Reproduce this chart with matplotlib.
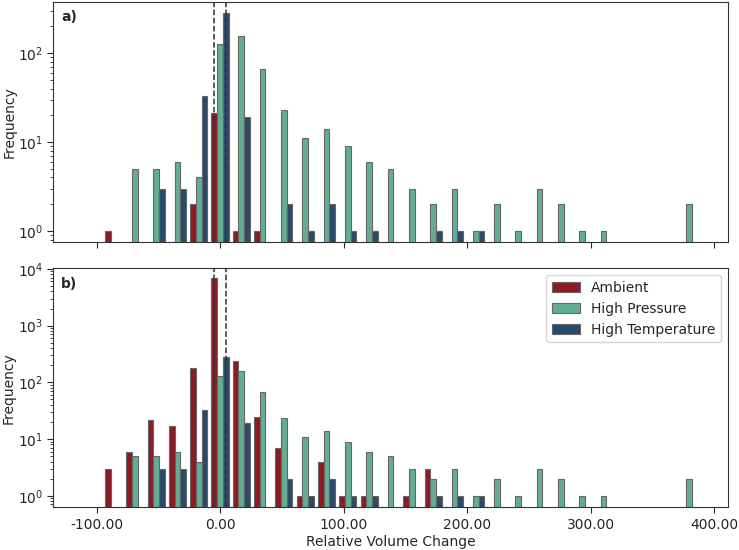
import numpy as np
import matplotlib
matplotlib.use("Agg")
import matplotlib.pyplot as plt
from matplotlib.ticker import FormatStrFormatter, LogLocator, NullFormatter

# ---- data (histogram counts per bin) ----
bin_start = -95.1
bin_width = 17.25
n_bins = 28

series_names = ["Ambient", "High Pressure", "High Temperature"]
colors = ["#8b1c24", "#62ad94", "#2a4a6a"]

# panel a)
ambient_a = [1, 0, 0, 0, 2, 21, 1, 1, 0, 0, 0, 0, 0, 0,
             0, 0, 0, 0, 0, 0, 0, 0, 0, 0, 0, 0, 0, 0]
# panel b)
ambient_b = [3, 6, 22, 17, 180, 6800, 240, 24, 7, 1, 4, 1, 1, 0,
             1, 3, 0, 0, 0, 0, 0, 0, 0, 0, 0, 0, 0, 0]
high_pressure = [0, 5, 5, 6, 4, 127, 157, 67, 23, 11, 14, 9, 6, 5,
                 3, 2, 3, 1, 2, 1, 3, 2, 1, 1, 0, 0, 0, 2]
high_temperature = [0, 0, 3, 3, 33, 280, 19, 0, 2, 1, 2, 1, 1, 0,
                    0, 1, 1, 1, 0, 0, 0, 0, 0, 0, 0, 0, 0, 0]

threshold_lines = [-5, 5]
xticks = [-100, 0, 100, 200, 300, 400]

plt.rcParams.update({
    "font.family": "DejaVu Sans",
    "text.color": "0.15",
    "axes.labelcolor": "0.15",
    "xtick.color": "0.15",
    "ytick.color": "0.15",
    "axes.edgecolor": "0.2",
})

fig = plt.figure(figsize=(7.39, 5.5), dpi=100)
L, R = 0.0721, 0.9847
ax_a = fig.add_axes([L, 0.5595, R - L, 0.9969 - 0.5595])
ax_b = fig.add_axes([L, 0.0776, R - L, 0.5122 - 0.0776])

edges = bin_start + bin_width * np.arange(n_bins + 1)
lefts = edges[:-1]
w = 0.8 / 3


def draw(ax, data_list, label, ylim):
    for i, (name, counts, c) in enumerate(zip(series_names, data_list, colors)):
        counts = np.asarray(counts, dtype=float)
        mask = counts > 0
        x = lefts + bin_width * (0.1 + w * (i + 0.5))
        ax.bar(x[mask], counts[mask], width=bin_width * w, color=c,
               edgecolor="0.4", linewidth=0.8, label=name)
    ax.set_yscale("log")
    ax.set_ylim(*ylim)
    ax.set_xlim(-135.2, 410.8)
    for t in threshold_lines:
        ax.axvline(t, color="0.2", linestyle="--", linewidth=1.1, zorder=5)
    ax.set_xticks(xticks)
    ax.xaxis.set_major_formatter(FormatStrFormatter("%.2f"))
    ax.yaxis.set_major_locator(LogLocator(base=10, numticks=10))
    ax.yaxis.set_minor_locator(LogLocator(base=10, subs=np.arange(2, 10), numticks=100))
    ax.yaxis.set_minor_formatter(NullFormatter())
    ax.tick_params(axis="both", which="major", labelsize=10, length=4, width=0.8)
    ax.tick_params(axis="y", which="minor", length=2.5, width=0.6)
    ax.set_ylabel("Frequency", fontsize=10, labelpad=1)
    ax.text(0.012, 0.965, label, transform=ax.transAxes, fontsize=10,
            fontweight="bold", va="top", ha="left")


draw(ax_a, [ambient_a, high_pressure, high_temperature], "a)", (0.746, 380))
draw(ax_b, [ambient_b, high_pressure, high_temperature], "b)", (0.624, 10250))
ax_a.tick_params(axis="x", labelbottom=False)
ax_b.set_xlabel("Relative Volume Change", fontsize=10, labelpad=2)
ax_b.legend(loc="upper right", fontsize=10, frameon=True)

fig.savefig("out.png", dpi=100)
